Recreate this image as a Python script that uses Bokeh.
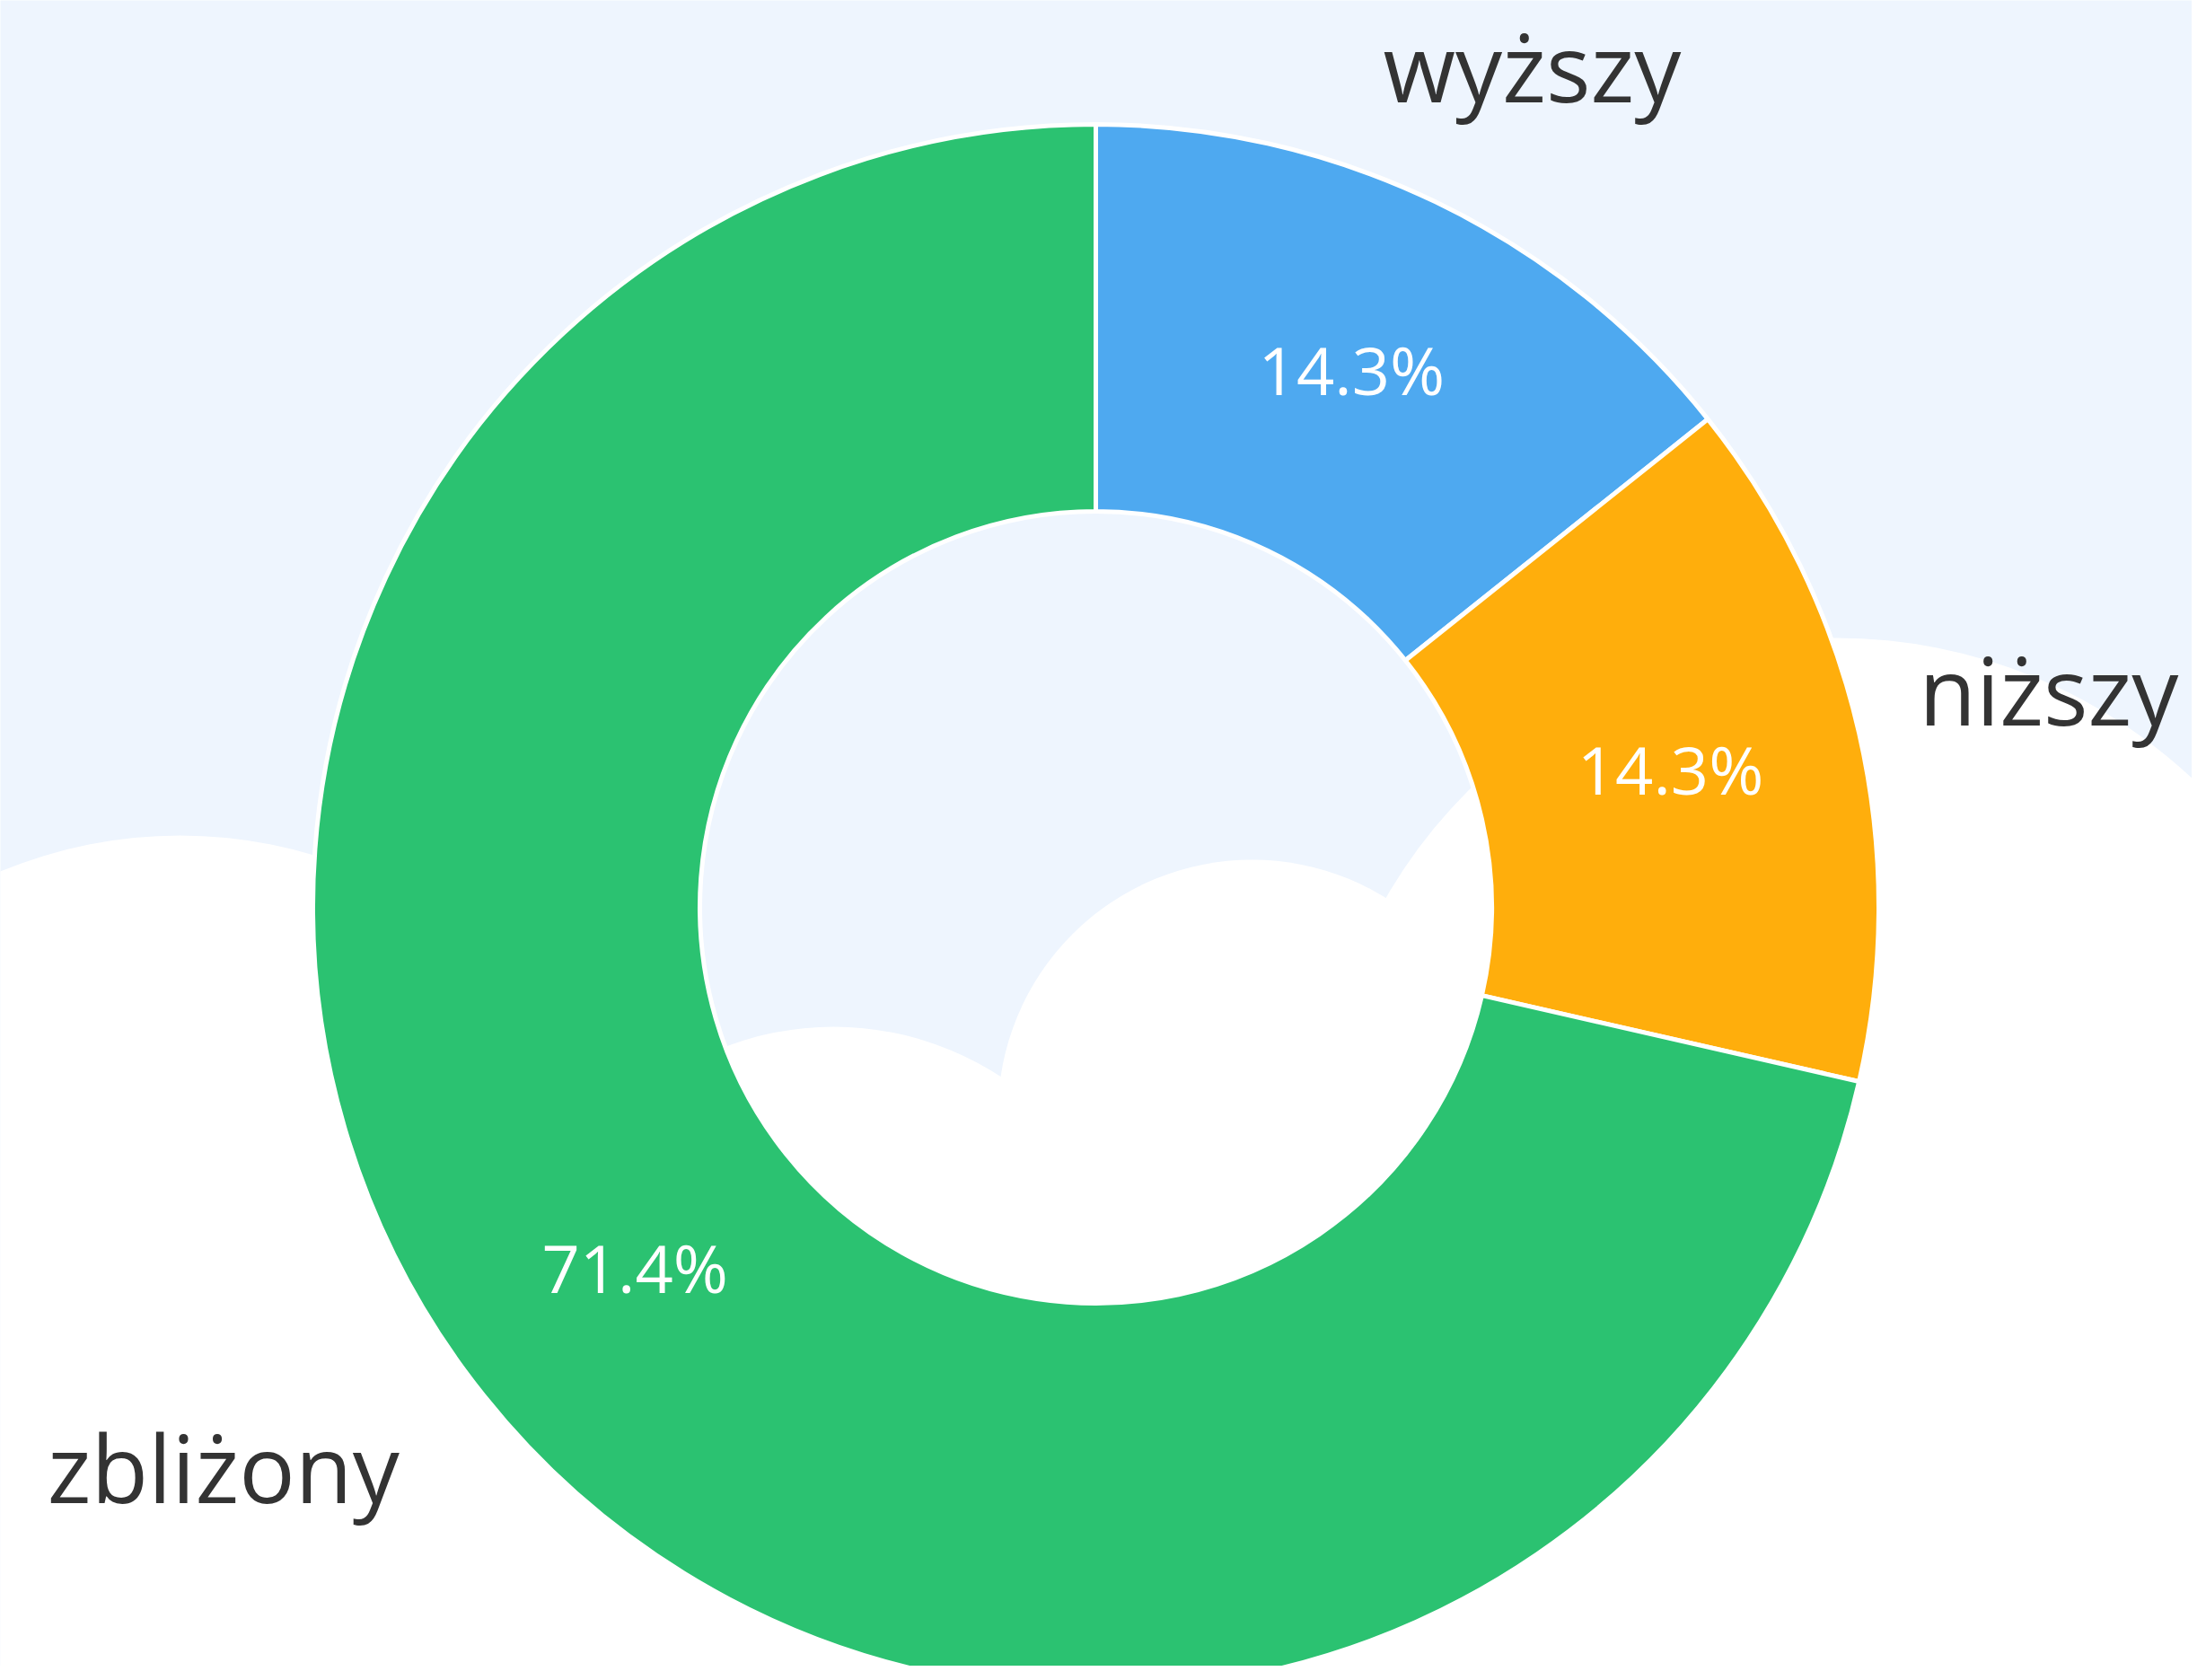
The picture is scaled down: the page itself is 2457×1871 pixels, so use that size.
import math
from bokeh.plotting import figure
from bokeh.models import Range1d, ColumnDataSource
from bokeh.core.properties import value
from bokeh.embed import file_html
from bokeh.resources import INLINE

# ---- data ----
categories = ["wyższy", "niższy", "zbliżony"]
counts = [1, 1, 5]
colors = ["#4EA9F0", "#FFAE0C", "#2BC271"]

# ---- layout (reference pixel space, y up) ----
W, H = 2457, 1871
CX, CY = 1220, H - 1010
R_OUT, R_IN = 872, 441
BG = "#EEF5FE"

p = figure(width=2441, height=1855, x_range=Range1d(0, 2441), y_range=Range1d(16, 1871),
           output_backend="svg", toolbar_location=None, min_border=0)
p.axis.visible = False
p.grid.visible = False
p.outline_line_color = None
p.background_fill_color = BG
p.border_fill_color = BG

# decorative clouds in the background
cloud_x = [200, 928, 1394, 2045]
cloud_y = [H - 1450, H - 1483, H - 1240, H - 1290]
cloud_r = [520, 340, 283, 580]
p.circle(x=cloud_x, y=cloud_y, radius=cloud_r, fill_color="white", line_color=None)
p.quad(left=[0], right=[W], bottom=[0], top=[H - 1300], fill_color="white", line_color=None)

# ---- donut ----
total = sum(counts)
starts, ends, mids, pct = [], [], [], []
a = math.pi / 2
for c in counts:
    span = 2 * math.pi * c / total
    starts.append(a - span)
    ends.append(a)
    mids.append(a - span / 2)
    pct.append(f"{100 * c / total:.1f}%")
    a -= span

src = ColumnDataSource(dict(start=starts, end=ends, color=colors, cat=categories))
p.annular_wedge(x=CX, y=CY, inner_radius=R_IN, outer_radius=R_OUT,
                start_angle="start", end_angle="end", fill_color="color",
                line_color="white", line_width=5, source=src)

r_mid = (R_IN + R_OUT) / 2
px = [CX + r_mid * math.cos(m) for m in mids]
py = [CY + r_mid * math.sin(m) + 8 for m in mids]
p.text(x=px, y=py, text=pct, text_align="center", text_baseline="middle",
       text_color="white", text_font_size="74px", text_font=value("Open Sans"))

# outer category labels
r_lab = 1.11 * R_OUT
nudge_x = [-100, -27, -19]
nudge_y = [65, 28, -20]
lx = [CX + r_lab * math.cos(m) + dx for m, dx in zip(mids, nudge_x)]
ly = [CY + r_lab * math.sin(m) + dy for m, dy in zip(mids, nudge_y)]
right_idx = [i for i, m in enumerate(mids) if math.cos(m) >= 0]
left_idx = [i for i, m in enumerate(mids) if math.cos(m) < 0]
for idx, align in ((right_idx, "left"), (left_idx, "right")):
    p.text(x=[lx[i] for i in idx], y=[ly[i] for i in idx], text=[categories[i] for i in idx],
           text_align=align, text_baseline="alphabetic", text_color="#333333",
           text_font_size="104px", text_font=value("Open Sans"))

open("out.html", "w").write(file_html(p, INLINE))
